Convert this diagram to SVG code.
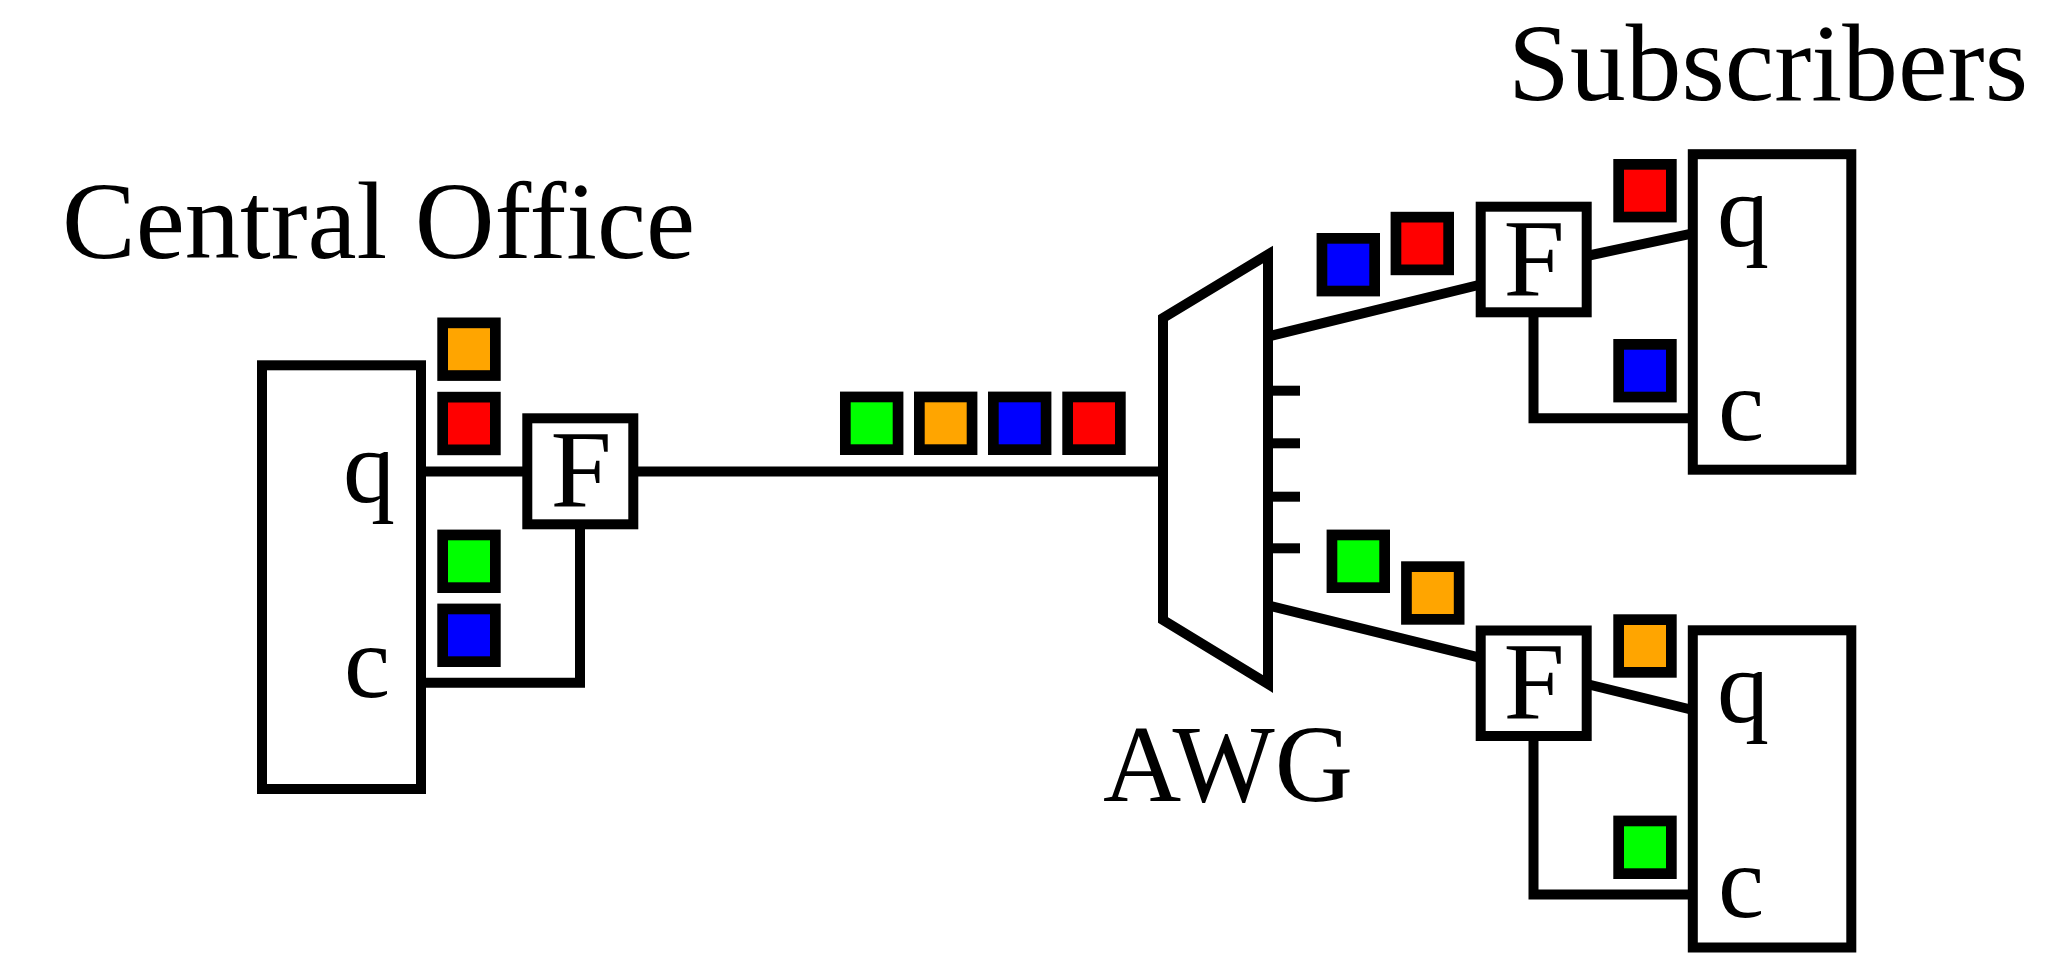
<svg xmlns="http://www.w3.org/2000/svg" width="2063" height="954" viewBox="0 0 2063 954">
<style>
.box{fill:#fff;stroke:#000;stroke-width:10}
.ln{fill:none;stroke:#000;stroke-width:10;stroke-linecap:butt;stroke-linejoin:miter}
.sq{stroke:#000;stroke-width:10.7}
.o{fill:#FFA500}.r{fill:#FF0000}.g{fill:#00FF00}.b{fill:#0000FF}
.t{font-family:"Liberation Serif","Times New Roman",serif;font-size:110px;fill:#000}
.s{font-size:104px}
.m{text-anchor:middle}
</style>
<rect width="2063" height="954" fill="#fff"/>
<g id="connectors">
<line class="ln" x1="421" y1="471.6" x2="527.3" y2="471.6"/>
<polyline class="ln" points="421,682.7 580,682.7 580,524.3"/>
<line class="ln" x1="633.3" y1="471.5" x2="1163" y2="471.5"/>
<line class="ln" x1="1268" y1="390.7" x2="1300" y2="390.7"/>
<line class="ln" x1="1268" y1="443.3" x2="1300" y2="443.3"/>
<line class="ln" x1="1268" y1="496.7" x2="1300" y2="496.7"/>
<line class="ln" x1="1268" y1="548.3" x2="1300" y2="548.3"/>
<line class="ln" x1="1268" y1="336.5" x2="1480.7" y2="284.5"/>
<line class="ln" x1="1268" y1="605.4" x2="1480.7" y2="657.9"/>
<line class="ln" x1="1586.7" y1="256" x2="1692.8" y2="233.3"/>
<polyline class="ln" points="1533.5,312.3 1533.5,418.3 1692.8,418.3"/>
<line class="ln" x1="1586.7" y1="684" x2="1692.8" y2="710"/>
<polyline class="ln" points="1533.5,736 1533.5,894.5 1692.8,894.5"/>
</g>
<g id="central-office">
<rect class="box" x="262" y="365.3" width="159" height="423.7"/>
<text class="t s m" x="369" y="501.7">q</text>
<text class="t s m" x="367" y="696.7">c</text>
<text class="t" x="62" y="258" textLength="633" lengthAdjust="spacingAndGlyphs">Central Office</text>
</g>
<g id="filter-co">
<rect class="box" x="527.3" y="418.3" width="106" height="106"/>
<text class="t m" x="581" y="506.7">F</text>
</g>
<g id="awg">
<polygon class="box" points="1163,318 1268,254.5 1268,684 1163,620"/>
<text class="t" x="1103" y="801" textLength="250" lengthAdjust="spacingAndGlyphs">AWG</text>
</g>
<g id="filter-sub1">
<rect class="box" x="1480.7" y="206.7" width="106" height="105.6"/>
<text class="t m" x="1534" y="296">F</text>
</g>
<g id="filter-sub2">
<rect class="box" x="1480.7" y="630.5" width="106" height="105.5"/>
<text class="t m" x="1534" y="719.3">F</text>
</g>
<g id="subscriber1">
<rect class="box" x="1692.8" y="154.2" width="158.5" height="315.5"/>
<text class="t s m" x="1743" y="246">q</text>
<text class="t s m" x="1741" y="440">c</text>
</g>
<g id="subscriber2">
<rect class="box" x="1692.8" y="630.3" width="158.5" height="317.2"/>
<text class="t s m" x="1743" y="721.7">q</text>
<text class="t s m" x="1741" y="916.7">c</text>
</g>
<g id="subscribers-label">
<text class="t" x="1508" y="100" textLength="520" lengthAdjust="spacingAndGlyphs">Subscribers</text>
</g>
<g id="packets-co">
<rect class="sq o" x="442.65" y="322.85" width="52.7" height="52.7"/>
<rect class="sq r" x="442.65" y="397.15" width="52.7" height="52.7"/>
<rect class="sq g" x="442.65" y="534.95" width="52.7" height="52.7"/>
<rect class="sq b" x="442.65" y="608.95" width="52.7" height="52.7"/>
</g>
<g id="packets-fiber">
<rect class="sq g" x="845.35" y="396.95" width="52.7" height="52.7"/>
<rect class="sq o" x="919.35" y="396.95" width="52.7" height="52.7"/>
<rect class="sq b" x="993.35" y="396.95" width="52.7" height="52.7"/>
<rect class="sq r" x="1067.65" y="396.95" width="52.7" height="52.7"/>
</g>
<g id="packets-branch1">
<rect class="sq b" x="1321.95" y="238.35" width="52.7" height="52.7"/>
<rect class="sq r" x="1395.95" y="217.15" width="52.7" height="52.7"/>
<rect class="sq r" x="1618.65" y="164.35" width="52.7" height="52.7"/>
<rect class="sq b" x="1618.65" y="344.35" width="52.7" height="52.7"/>
</g>
<g id="packets-branch2">
<rect class="sq g" x="1331.95" y="534.95" width="52.7" height="52.7"/>
<rect class="sq o" x="1406.45" y="566.65" width="52.7" height="52.7"/>
<rect class="sq o" x="1618.65" y="619.65" width="52.7" height="52.7"/>
<rect class="sq g" x="1618.65" y="820.95" width="52.7" height="52.7"/>
</g>
</svg>
